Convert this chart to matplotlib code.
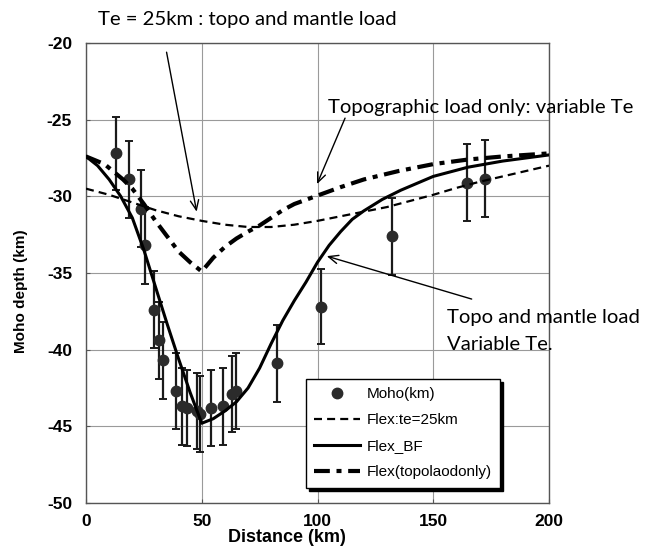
import matplotlib
matplotlib.use("Agg")
import matplotlib.pyplot as plt
import numpy as np

plt.rcParams["axes.unicode_minus"] = False

# ---- data ----
moho_x = [13.0, 18.4, 23.8, 25.6, 29.2, 31.5, 33.4, 38.9, 41.3, 43.8, 47.8, 49.2,
          54.0, 59.0, 62.9, 64.8, 82.3, 101.5, 132.3, 164.5, 172.5]
moho_y = [-27.2, -28.9, -30.8, -33.2, -37.4, -39.4, -40.7, -42.7, -43.7, -43.8, -44.0, -44.2,
          -43.8, -43.7, -42.9, -42.7, -40.9, -37.2, -32.6, -29.1, -28.85]
moho_err = [2.4, 2.5, 2.5, 2.5, 2.5, 2.5, 2.5, 2.5, 2.5, 2.5, 2.5, 2.5,
            2.5, 2.5, 2.5, 2.5, 2.5, 2.45, 2.5, 2.5, 2.5]

te25_x = [0, 10, 20, 30, 40, 50, 60, 70, 80, 90, 100, 110, 120, 130, 140, 150, 160, 170, 180, 190, 200]
te25_y = [-29.5, -29.9, -30.4, -30.9, -31.3, -31.6, -31.85, -32.0, -32.0, -31.85, -31.6, -31.3,
          -31.0, -30.7, -30.3, -29.9, -29.45, -29.05, -28.7, -28.35, -28.0]

bf_x = [0, 5, 10, 15, 20, 25, 30, 35, 40, 45, 50, 55, 60, 65, 70, 75, 80, 85, 90, 95, 100,
        105, 110, 115, 120, 128, 136, 150, 165, 180, 200]
bf_y = [-27.4, -28.0, -28.9, -30.0, -31.4, -33.5, -35.9, -38.3, -40.6, -42.8, -44.8, -44.5,
        -44.0, -43.4, -42.5, -41.2, -39.6, -38.1, -36.8, -35.6, -34.3, -33.2, -32.3, -31.5,
        -30.95, -30.2, -29.6, -28.7, -28.1, -27.7, -27.3]

topo_x = [0, 8, 16, 20, 25, 30, 35, 40, 45, 50, 55, 60, 65, 70, 75, 80, 85, 90, 100, 110,
          120, 135, 150, 165, 180, 200]
topo_y = [-27.4, -27.9, -28.9, -29.5, -30.5, -31.6, -32.6, -33.6, -34.3, -34.9, -34.0, -33.3,
          -32.75, -32.3, -31.9, -31.4, -30.9, -30.5, -29.95, -29.4, -28.9, -28.35, -27.9,
          -27.6, -27.4, -27.2]

x_ticks = [0, 50, 100, 150, 200]
y_ticks = [-50, -45, -40, -35, -30, -25, -20]

W, H = 647, 550
fig = plt.figure(figsize=(W / 100, H / 100), dpi=100)
ax = fig.add_axes([86 / W, 47 / H, 463 / W, 460 / H])

ax.set_xlim(0, 200)
ax.set_ylim(-50, -20)
ax.set_xticks(x_ticks)
ax.set_yticks(y_ticks)
ax.grid(True, color="#9a9a9a", lw=0.8)
ax.set_axisbelow(True)
for s in ax.spines.values():
    s.set_color("#555555")
    s.set_linewidth(1.0)

tick_font = dict(family="Liberation Sans", weight="bold", size=12.5)
ax.tick_params(axis="both", direction="in", length=3, color="#555555")
ax.tick_params(axis="y", pad=10)
ax.tick_params(axis="x", pad=8)
for lab in ax.get_xticklabels() + ax.get_yticklabels():
    lab.set_fontproperties(matplotlib.font_manager.FontProperties(**tick_font))

ax.errorbar(moho_x, moho_y, yerr=moho_err, fmt="none", ecolor="#1a1a1a",
            elinewidth=1.6, capsize=3, capthick=1.4, zorder=3)
h_moho, = ax.plot(moho_x, moho_y, "o", color="#2b2b2b", ms=7.5, zorder=4,
                  label="Moho(km)")
h_te, = ax.plot(te25_x, te25_y, color="k", lw=1.6, ls=(0, (3.6, 2.3)), zorder=5,
                label="Flex:te=25km")
h_bf, = ax.plot(bf_x, bf_y, color="k", lw=2.2, zorder=5, label="Flex_BF")
h_topo, = ax.plot(topo_x, topo_y, color="k", lw=3.0, ls=(0, (3.8, 1.6, 1.2, 1.6)),
                  zorder=5, label="Flex(topolaodonly)")

leg = ax.legend(handles=[h_moho, h_te, h_bf, h_topo], loc="upper left",
                bbox_to_anchor=(306 / W, 1 - 379 / H), bbox_transform=fig.transFigure,
                borderaxespad=0, fancybox=False, framealpha=1, edgecolor="k",
                prop=dict(family="Liberation Sans", size=11), numpoints=1,
                handlelength=3.0, handletextpad=0.4, labelspacing=0.78,
                borderpad=0.55,
                shadow={"ox": 2.5, "oy": -2.5, "color": "k", "alpha": 1})
leg.get_frame().set_linewidth(1.0)
leg.set_zorder(10)

ann_font = dict(family="Lato", size=14.6)
fig.text(98 / W, 1 - 25 / H, "Te = 25km : topo and mantle load", va="baseline",
         ha="left", **ann_font)
fig.text(328 / W, 1 - 113 / H, "Topographic load only: variable Te", va="baseline",
         ha="left", **ann_font)
fig.text(447 / W, 1 - 323 / H, "Topo and mantle load", va="baseline", ha="left", **ann_font)
fig.text(447 / W, 1 - 350 / H, "Variable Te.", va="baseline", ha="left", **ann_font)

arrow = dict(arrowstyle="->,head_length=0.7,head_width=0.3", color="k", lw=1.0,
             shrinkA=0, shrinkB=0)
ax.annotate("", xy=(47.8, -31.0), xytext=(34.8, -20.6), arrowprops=arrow,
            annotation_clip=False, zorder=6)
ax.annotate("", xy=(99.8, -29.2), xytext=(111.9, -24.9), arrowprops=arrow,
            annotation_clip=False, zorder=6)
ax.annotate("", xy=(104.0, -33.9), xytext=(166.6, -36.7), arrowprops=arrow,
            annotation_clip=False, zorder=6)

fig.text(287 / W, 1 - 538 / H, "Distance (km)", ha="center", va="center",
         family="Liberation Sans", weight="bold", size=13)
fig.text(21 / W, 1 - 291 / H, "Moho depth (km)", ha="center", va="center",
         rotation=90, family="Liberation Sans", weight="bold", size=11)

fig.savefig("out.png", dpi=100)
